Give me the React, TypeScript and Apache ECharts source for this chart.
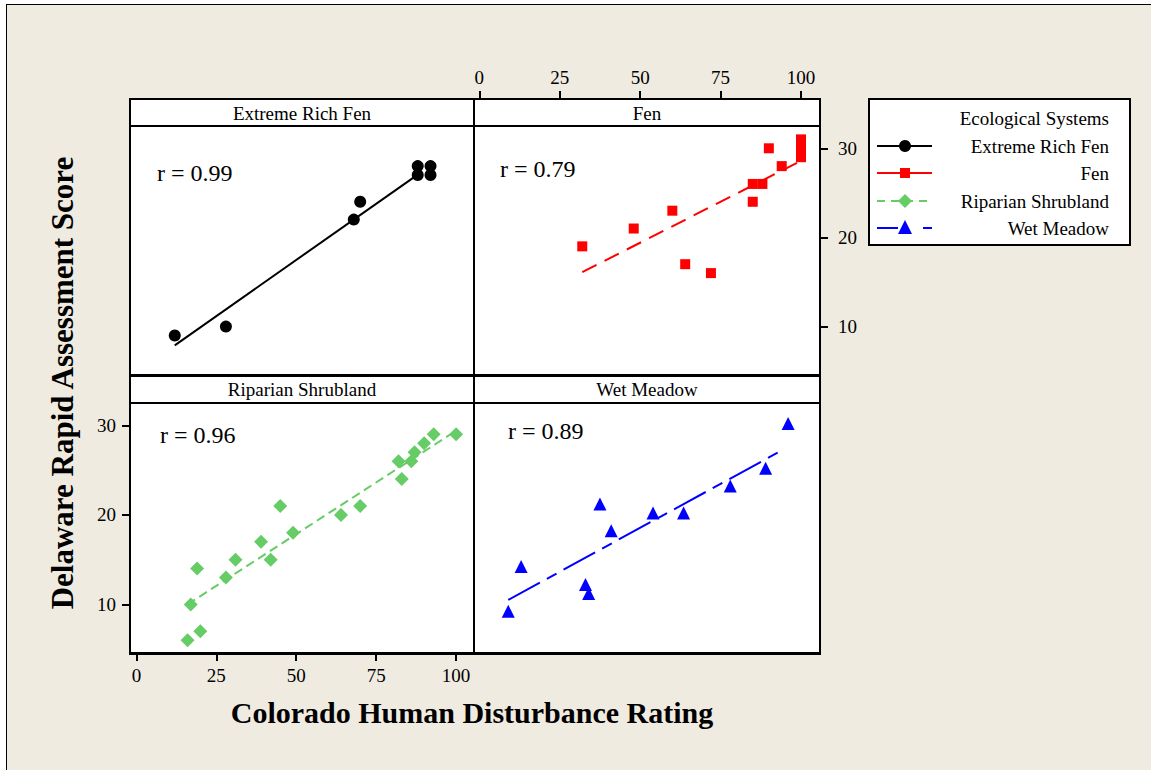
import React, { useEffect, useRef } from "react";
import * as echarts from "echarts";

// ---- Data ----
const xTicks = [0, 25, 50, 75, 100];
const yTicks = [10, 20, 30];
const panelTitles = ["Extreme Rich Fen", "Fen", "Riparian Shrubland", "Wet Meadow"];
const rLabels = ["r = 0.99", "r = 0.79", "r = 0.96", "r = 0.89"];
const legendTitle = "Ecological Systems";
const xTitle = "Colorado Human Disturbance Rating";
const yTitle = "Delaware Rapid Assessment Score";

const ercX = [12, 28, 68, 70, 88, 92, 88, 92];
const ercY = [9, 10, 22, 24, 28, 28, 27, 27];
const fenX = [32, 48, 60, 64, 72, 85, 85, 88, 90, 94, 100, 100, 100];
const fenY = [19, 21, 23, 17, 16, 24, 26, 26, 30, 28, 29, 30, 31];
const ripX = [16, 20, 17, 19, 28, 31, 39, 42, 45, 49, 64, 70, 82, 83, 86, 87, 90, 93, 100];
const ripY = [6, 7, 10, 14, 13, 15, 17, 15, 21, 18, 20, 21, 26, 24, 26, 27, 28, 29, 29];
const wetX = [9, 13, 33, 34, 37.5, 41, 54, 63.5, 78, 89, 96];
const wetY = [9, 14, 12, 11, 21, 18, 20, 20, 23, 25, 30];

const ercFitX = [12, 87];
const ercFitY = [7.9, 26.8];
const fenFitX = [32, 100];
const fenFitY = [16.1, 28.6];
const ripFitX = [16, 100];
const ripFitY = [10.0, 29.4];
const wetFitX = [9, 94];
const wetFitY = [10.5, 27.2];

const colors = ["#000000", "#ff0000", "#66cc66", "#0000ff"];

const SERIF = "'Liberation Serif', 'Times New Roman', serif";

const zip = (xs: number[], ys: number[]) => xs.map((x, i) => [x, ys[i]]);

export default function App() {
  const ref = useRef<HTMLDivElement>(null);
  useEffect(() => {
    if (!ref.current) return;
    const chart = echarts.init(ref.current, undefined, { renderer: "svg" });

    const grids = [
      { left: 130, top: 126, width: 344, height: 249 },
      { left: 474, top: 126, width: 346, height: 249 },
      { left: 130, top: 403, width: 344, height: 250 },
      { left: 474, top: 403, width: 346, height: 250 },
    ].map((g) => ({
      ...g,
      show: true,
      backgroundColor: "#ffffff",
      borderColor: "#000000",
      borderWidth: 2,
      containLabel: false,
    }));

    const xRanges = [
      [-2.0, 105.6],
      [-1.65, 105.9],
      [-2.0, 105.6],
      [-1.65, 105.9],
    ];
    const yMin = 4.57;
    const yMax = 32.5;

    const tickStyle = { color: "#000", width: 2 };
    const labelStyle = { color: "#000", fontFamily: SERIF, fontSize: 19 };

    const xAxis = [0, 1, 2, 3].map((i) => {
      const show = i === 1 || i === 2;
      return {
        type: "value",
        gridIndex: i,
        min: xRanges[i][0],
        max: xRanges[i][1],
        position: i === 1 ? "top" : "bottom",
        offset: i === 1 ? 27 : 0,
        axisLine: { show: false, onZero: false },
        splitLine: { show: false },
        axisTick: { show, customValues: xTicks, length: 8, lineStyle: tickStyle },
        axisLabel: { show, customValues: xTicks, margin: i === 1 ? 12 : 13, ...labelStyle },
      };
    });

    const yAxis = [0, 1, 2, 3].map((i) => {
      const show = i === 1 || i === 2;
      return {
        type: "value",
        gridIndex: i,
        min: yMin,
        max: yMax,
        position: i === 1 ? "right" : "left",
        axisLine: { show: false, onZero: false },
        splitLine: { show: false },
        axisTick: { show, customValues: yTicks, length: 8, lineStyle: tickStyle },
        axisLabel: { show, customValues: yTicks, margin: i === 1 ? 18 : 14, ...labelStyle },
      };
    });

    const scatterDefs = [
      { x: ercX, y: ercY, symbol: "circle", size: 12, offset: [0, 0] },
      { x: fenX, y: fenY, symbol: "rect", size: 10, offset: [0, 0] },
      { x: ripX, y: ripY, symbol: "diamond", size: 14, offset: [0, 0] },
      { x: wetX, y: wetY, symbol: "triangle", size: 13, offset: [0, -2] },
    ];
    const fitDefs = [
      { x: ercFitX, y: ercFitY, dash: "solid" as any },
      { x: fenFitX, y: fenFitY, dash: [16, 9] },
      { x: ripFitX, y: ripFitY, dash: [9, 5] },
      { x: wetFitX, y: wetFitY, dash: [36, 8, 11, 8] },
    ];

    const series: any[] = [];
    fitDefs.forEach((f, i) => {
      series.push({
        name: panelTitles[i] + " fit",
        type: "line",
        xAxisIndex: i,
        yAxisIndex: i,
        data: zip(f.x, f.y),
        showSymbol: false,
        symbol: "none",
        lineStyle: { color: colors[i], width: 2, type: f.dash },
        z: 2,
        silent: true,
      });
    });
    scatterDefs.forEach((s, i) => {
      series.push({
        name: panelTitles[i],
        type: "scatter",
        xAxisIndex: i,
        yAxisIndex: i,
        data: zip(s.x, s.y),
        symbol: s.symbol,
        symbolSize: s.size,
        symbolOffset: s.offset,
        itemStyle: { color: colors[i], opacity: 1 },
        z: 3,
      });
    });

    const stripRects = [
      { x: 130, y: 99, w: 344, h: 27, cx: 302, cy: 113 },
      { x: 474, y: 99, w: 346, h: 27, cx: 647, cy: 113 },
      { x: 130, y: 376, w: 344, h: 27, cx: 302, cy: 389 },
      { x: 474, y: 376, w: 346, h: 27, cx: 647, cy: 389 },
    ];
    const rPos = [
      [157, 173],
      [500, 169],
      [160, 435],
      [508, 431],
    ];

    const graphic: any[] = [];
    stripRects.forEach((s, i) => {
      graphic.push({
        type: "rect",
        shape: { x: s.x, y: s.y, width: s.w, height: s.h },
        style: { fill: "#ffffff", stroke: "#000000", lineWidth: 2 },
      });
      graphic.push({
        type: "text",
        x: s.cx,
        y: s.cy,
        style: {
          text: panelTitles[i],
          textAlign: "center",
          textVerticalAlign: "middle",
          fontFamily: SERIF,
          fontSize: 19,
          fill: "#000",
        },
      });
      graphic.push({
        type: "text",
        x: rPos[i][0],
        y: rPos[i][1],
        z: 10,
        style: {
          text: rLabels[i],
          textAlign: "left",
          textVerticalAlign: "middle",
          fontFamily: SERIF,
          fontSize: 24,
          fill: "#000",
        },
      });
    });

    // bottom edge of lower panels (slightly heavier)
    graphic.push({
      type: "line",
      shape: { x1: 129, y1: 653.5, x2: 821, y2: 653.5 },
      style: { stroke: "#000", lineWidth: 3 },
    });

    // axis titles
    graphic.push({
      type: "text",
      x: 472,
      y: 712,
      style: {
        text: xTitle,
        textAlign: "center",
        textVerticalAlign: "middle",
        fontFamily: SERIF,
        fontWeight: "bold",
        fontSize: 30,
        fill: "#000",
      },
    });
    graphic.push({
      type: "text",
      x: 62,
      y: 383,
      rotation: Math.PI / 2,
      style: {
        text: yTitle,
        textAlign: "center",
        textVerticalAlign: "middle",
        fontFamily: SERIF,
        fontWeight: "bold",
        fontSize: 31,
        fill: "#000",
      },
    });

    // legend
    graphic.push({
      type: "rect",
      shape: { x: 869, y: 99, width: 261, height: 146 },
      style: { fill: "#ffffff", stroke: "#000000", lineWidth: 2 },
    });
    graphic.push({
      type: "text",
      x: 1109,
      y: 118,
      style: {
        text: legendTitle,
        textAlign: "right",
        textVerticalAlign: "middle",
        fontFamily: SERIF,
        fontSize: 19,
        fill: "#000",
      },
    });
    const legY = [146, 173, 201, 228];
    const mx = 905;
    panelTitles.forEach((t, i) => {
      const y = legY[i];
      const c = colors[i];
      if (i === 0 || i === 1) {
        graphic.push({ type: "line", shape: { x1: 877, y1: y, x2: 932, y2: y }, style: { stroke: c, lineWidth: 2 } });
      } else if (i === 2) {
        graphic.push({ type: "line", shape: { x1: 877, y1: y, x2: 932, y2: y }, style: { stroke: c, lineWidth: 2, lineDash: [8, 6] } });
      } else {
        graphic.push({ type: "line", shape: { x1: 877, y1: y, x2: 898, y2: y }, style: { stroke: c, lineWidth: 2 } });
        graphic.push({ type: "line", shape: { x1: 923, y1: y, x2: 932, y2: y }, style: { stroke: c, lineWidth: 2 } });
      }
      if (i === 0) {
        graphic.push({ type: "circle", shape: { cx: mx, cy: y, r: 6 }, style: { fill: c } });
      } else if (i === 1) {
        graphic.push({ type: "rect", shape: { x: mx - 5, y: y - 5, width: 10, height: 10 }, style: { fill: c } });
      } else if (i === 2) {
        graphic.push({ type: "polygon", shape: { points: [[mx, y - 7], [mx + 7, y], [mx, y + 7], [mx - 7, y]] }, style: { fill: c } });
      } else {
        graphic.push({ type: "polygon", shape: { points: [[mx, y - 8], [mx + 7, y + 6], [mx - 7, y + 6]] }, style: { fill: c } });
      }
      graphic.push({
        type: "text",
        x: 1109,
        y: y,
        style: {
          text: t,
          textAlign: "right",
          textVerticalAlign: "middle",
          fontFamily: SERIF,
          fontSize: 19,
          fill: "#000",
        },
      });
    });

    chart.setOption({
      animation: false,
      backgroundColor: "transparent",
      grid: grids,
      xAxis,
      yAxis,
      series,
      graphic,
    } as any);

    return () => chart.dispose();
  }, []);

  return (
    <div style={{ position: "absolute", left: 0, top: 0, width: 1151, height: 770, background: "#ffffff", overflow: "hidden" }}>
      <div
        style={{
          position: "absolute",
          left: 6,
          top: 4,
          width: 1200,
          height: 800,
          background: "#efebe1",
          borderLeft: "1.5px solid #000",
          borderTop: "1.5px solid #000",
        }}
      />
      <div ref={ref} style={{ position: "absolute", left: 0, top: 0, width: 1151, height: 770 }} />
    </div>
  );
}
